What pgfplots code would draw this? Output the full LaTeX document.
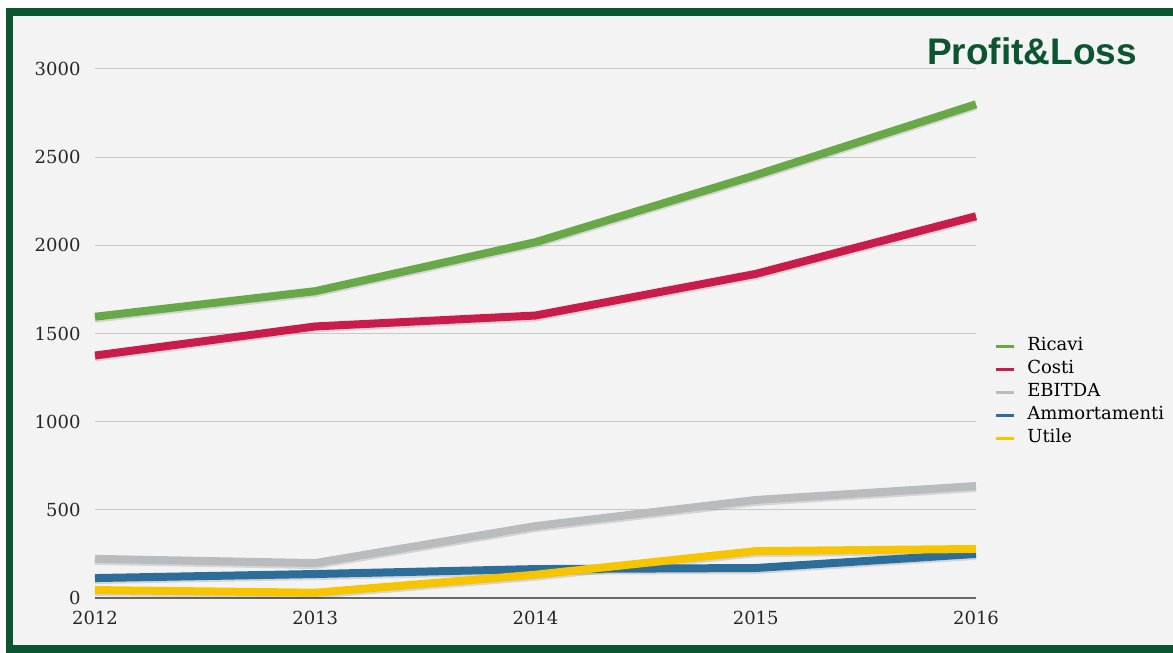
\documentclass[border=0pt]{standalone}
\usepackage{fontspec}
\setmainfont{DejaVu Serif}
\newfontfamily\titlefont{Liberation Sans}
\usepackage{pgfplots}
\pgfplotsset{compat=1.18}
\definecolor{pgreen}{HTML}{0B5530}
\definecolor{bgpanel}{HTML}{F3F3F3}
\definecolor{ricavi}{HTML}{68A849}
\definecolor{costi}{HTML}{C81D4A}
\definecolor{ebitda}{HTML}{B9BCBF}
\definecolor{ammort}{HTML}{2C6E99}
\definecolor{utile}{HTML}{F6C500}

\pgfplotsset{
  shadow/.style={forget plot, black, opacity=0.12, line width=8pt, yshift=-2pt, line join=round},
  serie/.style={#1, line width=8pt, line join=round},
}

\begin{document}
\begin{tikzpicture}
\useasboundingbox (0,0) rectangle (1173pt,653pt);
\fill[white] (0,0) rectangle (1173pt,653pt);
\fill[pgreen] (6pt,0) rectangle (1173pt,645pt);
\fill[bgpanel] (13pt,8pt) rectangle (1173pt,637pt);
\node[anchor=base west, inner sep=0pt, text=pgreen,
      font=\titlefont\bfseries\fontsize{37}{40}\selectfont] at (927pt,588pt) {Profit\&Loss};

\begin{axis}[
  at={(95pt,55pt)}, anchor=south west,
  scale only axis, width=881pt, height=529pt,
  xmin=2012, xmax=2016, ymin=0, ymax=3000,
  xtick={2012,2013,2014,2015,2016},
  ytick={0,500,1000,1500,2000,2500,3000},
  clip=false,
  axis lines*=left,
  y axis line style={draw=none},
  x axis line style={draw=black!60, line width=1.3pt},
  major tick length=0pt,
  ymajorgrids,
  grid style={draw=black!22, line width=1pt},
  /pgf/number format/1000 sep={},
  /pgf/number format/assume math mode=true,
  ticklabel style={font=\fontsize{18}{20}\selectfont, text=black!85},
  yticklabel style={xshift=-11pt},
  xticklabel style={yshift=-10pt},
  legend style={draw=none, fill=none, at={(1.02,0.495)}, anchor=north west,
    inner sep=0pt, row sep=3pt, font=\fontsize{18}{20}\selectfont,
    nodes={inner sep=1pt, text depth=4.5pt, text height=13.5pt},
    /tikz/every odd column/.append style={column sep=11pt}},
  legend cell align=left,
  legend image code/.code={\draw[#1, line width=3.5pt] (0pt,0pt) -- (18pt,0pt);},
]
% ombre
\addplot[shadow] coordinates {(2012,1595) (2013,1740) (2014,2018) (2015,2398) (2016,2800)};
\addplot[shadow] coordinates {(2012,1375) (2013,1540) (2014,1602) (2015,1838) (2016,2165)};
\addplot[shadow] coordinates {(2012,222) (2013,198) (2014,408) (2015,556) (2016,635)};
\addplot[shadow] coordinates {(2012,113) (2013,136) (2014,164) (2015,170) (2016,250)};
\addplot[shadow] coordinates {(2012,45) (2013,30) (2014,132) (2015,266) (2016,278)};
% serie
\addplot[serie=ricavi] coordinates {(2012,1595) (2013,1740) (2014,2018) (2015,2398) (2016,2800)};
\addlegendentry{Ricavi}
\addplot[serie=costi] coordinates {(2012,1375) (2013,1540) (2014,1602) (2015,1838) (2016,2165)};
\addlegendentry{Costi}
\addplot[serie=ebitda] coordinates {(2012,222) (2013,198) (2014,408) (2015,556) (2016,635)};
\addlegendentry{EBITDA}
\addplot[serie=ammort] coordinates {(2012,113) (2013,136) (2014,164) (2015,170) (2016,250)};
\addlegendentry{Ammortamenti}
\addplot[serie=utile] coordinates {(2012,45) (2013,30) (2014,132) (2015,266) (2016,278)};
\addlegendentry{Utile}
\end{axis}
\end{tikzpicture}
\end{document}
